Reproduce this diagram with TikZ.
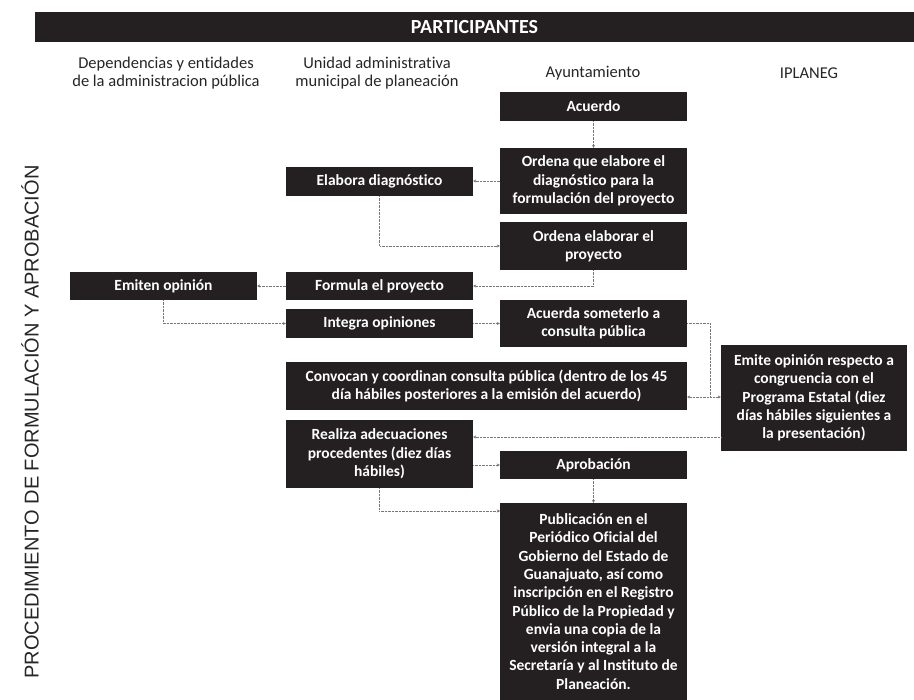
\documentclass[tikz,border=0pt]{standalone}
\usepackage{fontspec}
\setmainfont{Carlito}[Ligatures={TeX,CommonOff}]
\newfontfamily\vertfont{Liberation Sans}
\usepackage{xcolor}
\usepackage{tikz}
\usetikzlibrary{arrows.meta,positioning,calc}
\definecolor{procNegro}{RGB}{36,32,33}
\definecolor{procGris}{RGB}{120,120,120}

\begin{document}
\begin{tikzpicture}[
    x=1pt, y=-1pt,
    every node/.style={font=\fontsize{15.5}{18.3}\selectfont},
    paso/.style={rectangle, fill=procNegro, text=white, align=center, inner sep=2pt,
      font=\fontsize{15.5}{18.3}\selectfont\bfseries, minimum width=187, minimum height=29},
    barra/.style={rectangle, fill=procNegro, text=white, inner sep=0pt,
      font=\fontsize{20}{22}\selectfont\bfseries, minimum width=879, minimum height=30},
    cabeza/.style={align=center, font=\fontsize{16.5}{17.5}\selectfont, text=black!85},
    flecha/.style={draw=procGris, densely dotted, thin, -{Stealth[length=3pt,width=3pt]}},
    linea/.style={draw=procGris, densely dotted, thin}
]
\useasboundingbox (0,0) rectangle (914,700);

\node[barra] (part) at (474.5,27) {PARTICIPANTES};
\node[cabeza] (hdep) at (166,73) {Dependencias y entidades\\de la administracion pública};
\node[cabeza] (huni) at (377,73) {Unidad administrativa\\municipal de planeación};
\node[cabeza] (hayu) at (593,73) {Ayuntamiento};
\node[cabeza] (hipl) at (809,73) {IPLANEG};
\node[rotate=90, font=\vertfont\fontsize{20}{22}\selectfont, text=black!85] (proc) at (30,422)
  {PROCEDIMIENTO DE FORMULACIÓN Y APROBACIÓN};

\node[paso] (acu) at (593.5,106.5) {Acuerdo};
\node[paso, minimum height=66] (orddiag) at (593.5,181) {Ordena que elabore el\\diagnóstico para la\\formulación del proyecto};
\node[paso, minimum height=48] (ordproy) at (593.5,246) {Ordena elaborar el\\proyecto};
\node[paso, minimum height=47] (acucons) at (593.5,323.5) {Acuerda someterlo a\\consulta pública};
\node[paso] (elab) at (379.5,181.5) {Elabora diagnóstico};
\node[paso, minimum height=28] (emiten) at (163.5,286) {Emiten opinión};
\node[paso, minimum height=28] (formula) at (379.5,286) {Formula el proyecto};
\node[paso] (integra) at (379.5,323.5) {Integra opiniones};
\node[paso, minimum width=401, minimum height=48] (convocan) at (486.5,386)
  {Convocan y coordinan consulta pública (dentro de los 45\\día hábiles posteriores a la emisión del acuerdo)};
\node[paso, minimum height=68] (realiza) at (379.5,454) {Realiza adecuaciones\\procedentes (diez días\\hábiles)};
\node[paso, minimum height=28] (aprob) at (593.5,465) {Aprobación};
\node[paso, minimum width=186, minimum height=106] (emite) at (814,398)
  {Emite opinión respecto a\\congruencia con el\\Programa Estatal (diez\\días hábiles siguientes a\\la presentación)};
\node[paso, minimum height=197] (publ) at (593.5,601.5)
  {Publicación en el\\Periódico Oficial del\\Gobierno del Estado de\\Guanajuato, así como\\inscripción en el Registro\\Público de la Propiedad y\\envia una copia de la\\versión integral a la\\Secretaría y al Instituto de\\Planeación.};

\coordinate (nudo) at (710,397);
\coordinate (salemite) at (721,437);
\coordinate (entpubl) at (500,511);

\foreach \a/\b in {acu/orddiag,aprob/publ} \draw[flecha] (\a) -- (\b);
\draw[flecha] (orddiag.west) -- (orddiag.west -| elab.east);
\draw[flecha] (elab.south) |- (ordproy.west);
\draw[flecha] (ordproy.south) |- (formula.east);
\draw[flecha] (formula.west) -- (emiten.east);
\draw[flecha] (emiten.south) |- (integra.west);
\draw[flecha] (integra.east) -- (acucons.west);
\draw[linea] (acucons.east) -| (nudo);
\draw[flecha] (nudo) -- (nudo -| convocan.east);
\draw[flecha] (nudo) -- (nudo -| emite.west);
\draw[flecha] (salemite) -- (salemite -| realiza.east);
\draw[flecha] (aprob.west -| realiza.east) -- (aprob.west);
\draw[flecha] (realiza.south) |- (entpubl);
\end{tikzpicture}
\end{document}
